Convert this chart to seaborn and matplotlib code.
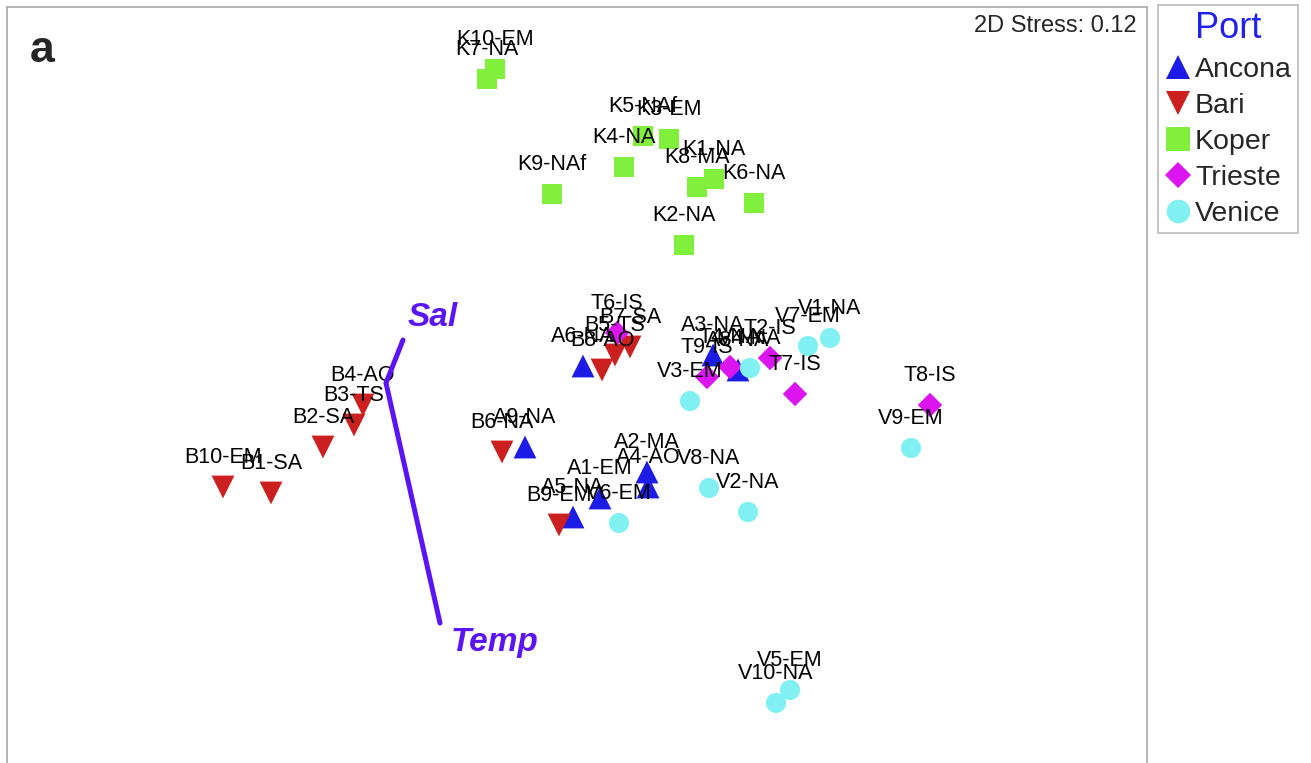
import numpy as np
import pandas as pd
import matplotlib
matplotlib.use("Agg")
import matplotlib.pyplot as plt
from matplotlib.lines import Line2D
import seaborn as sns

# ---------------- data (nMDS coordinates) ----------------
ancona_labels = ["A1-EM", "A2-MA", "A3-NA", "A4-AO", "A5-NA", "A6-NA", "A9-NA", "A8-NA"]
ancona_x = [593, 640, 706, 641, 566, 576, 518, 731]
ancona_y = [265, 291, 408, 276, 246, 397, 316, 393]

bari_labels = ["B1-SA", "B2-SA", "B3-TS", "B4-AO", "B5-TS", "B6-NA", "B7-SA", "B8-AO", "B9-EM", "B10-EM"]
bari_x = [264, 316, 347, 356, 608, 495, 623, 595, 552, 216]
bari_y = [270, 316, 338, 358, 408, 311, 416, 393, 238, 276]

koper_labels = ["K1-NA", "K2-NA", "K3-EM", "K4-NA", "K5-NAf", "K6-NA", "K7-NA", "K8-MA", "K9-NAf", "K10-EM"]
koper_x = [707, 677, 662, 617, 636, 747, 480, 690, 545, 488]
koper_y = [584, 518, 624, 596, 627, 560, 684, 576, 569, 694]

trieste_labels = ["T2-IS", "T4-NA", "T6-IS", "T7-IS", "T8-IS", "T9-IS"]
trieste_x = [763, 723, 610, 788, 923, 700]
trieste_y = [405, 396, 430, 369, 358, 386]

venice_labels = ["V1-NA", "V2-NA", "V3-EM", "V4-NA", "V5-EM", "V6-EM", "V7-EM", "V8-NA", "V9-EM", "V10-NA"]
venice_x = [823, 741, 683, 743, 783, 612, 801, 702, 904, 769]
venice_y = [425, 251, 362, 395, 73, 240, 417, 275, 315, 60]

ports = ["Ancona", "Bari", "Koper", "Trieste", "Venice"]
port_colors = ["#1c1ce6", "#cc1f1f", "#80f03c", "#dc14f0", "#80f0f2"]
port_markers = ["^", "v", "s", "D", "o"]
port_sizes = [270, 270, 210, 155, 210]

# environmental vector overlay (Sal / Temp)
vec_x = [396, 379, 433]
vec_y = [423, 380, 140]
vec_names = ["Sal", "Temp"]
vec_name_x = [426, 488]
vec_name_y = [445, 120]

stress_text = "2D Stress: 0.12"
panel_letter = "a"

# ---------------- build table ----------------
frames = []
for port, labs, xs, ys in zip(ports,
                              [ancona_labels, bari_labels, koper_labels, trieste_labels, venice_labels],
                              [ancona_x, bari_x, koper_x, trieste_x, venice_x],
                              [ancona_y, bari_y, koper_y, trieste_y, venice_y]):
    frames.append(pd.DataFrame({"Sample": labs, "MDS1": xs, "MDS2": ys, "Port": port}))
df = pd.concat(frames, ignore_index=True)

# ---------------- plot ----------------
sns.set_style("white")
plt.rcParams["font.family"] = ["Liberation Sans", "DejaVu Sans"]

W, H = 1311, 763
fig = plt.figure(figsize=(W / 100, H / 100), dpi=100)
ax = fig.add_axes([7 / W, 0, 1140 / W, 756 / H])

palette = dict(zip(ports, port_colors))
markers = dict(zip(ports, port_markers))
sizes = dict(zip(ports, port_sizes))

sns.scatterplot(data=df, x="MDS1", y="MDS2", hue="Port", style="Port", size="Port",
                palette=palette, markers=markers, sizes=sizes, linewidth=0,
                legend=False, ax=ax, zorder=2)

for _, r in df.iterrows():
    ax.annotate(r["Sample"], (r["MDS1"], r["MDS2"]), xytext=(0, 21.5),
                textcoords="offset points", ha="center", va="center",
                fontsize=15.5, color="black", zorder=3)

vec_color = "#5a14f5"
ax.plot(vec_x, vec_y, color=vec_color, lw=3.6, solid_joinstyle="miter", zorder=4)
for name, tx, ty in zip(vec_names, vec_name_x, vec_name_y):
    ax.text(tx, ty, name, color=vec_color, fontsize=24, fontweight="bold",
            fontstyle="italic", ha="center", va="center", zorder=4)

ax.set_xlim(0, 1140)
ax.set_ylim(0, 756)
ax.set_xticks([])
ax.set_yticks([])
ax.set_xlabel("")
ax.set_ylabel("")
for side, sp in ax.spines.items():
    sp.set_color("#b0b0b0")
    sp.set_linewidth(1.3)
ax.spines["bottom"].set_visible(False)

ax.text(0.9905, (763 - 26) / 756, stress_text, transform=ax.transAxes,
        ha="right", va="center", fontsize=17)
ax.text(0.020, (763 - 50) / 756, panel_letter, transform=ax.transAxes,
        ha="left", va="center", fontsize=32, fontweight="bold")

handles = [Line2D([], [], marker=m, color=c, linestyle="none", markersize=17,
                  markeredgewidth=0) for m, c in zip(port_markers, port_colors)]
handles[3].set_markersize(13)
leg = fig.legend(handles, ports, loc="upper left",
                 bbox_to_anchor=(1158 / W, 1 - 5 / H), bbox_transform=fig.transFigure,
                 title="Port", fontsize=20.5, title_fontsize=26, frameon=True,
                 fancybox=False, edgecolor="#b0b0b0", borderaxespad=0,
                 handletextpad=0.1, handlelength=1.0, labelspacing=0.355,
                 borderpad=0.2)
leg._legend_box.sep = 8
leg.get_title().set_color("#2020f0")
leg.get_frame().set_linewidth(1.3)

fig.savefig("out.png", dpi=100)
